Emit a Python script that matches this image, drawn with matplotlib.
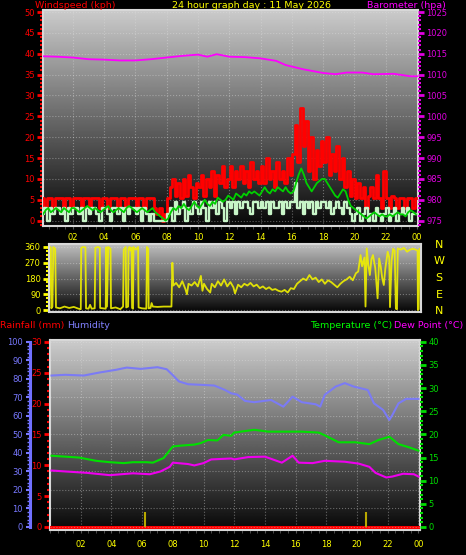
import numpy as np
import matplotlib
matplotlib.use('Agg')
import matplotlib.pyplot as plt
from matplotlib.ticker import MultipleLocator

# ---- data ----
# wind, 10 minute samples from 00:00
gust = [5.4, 3, 5.4, 5.4, 3, 5.4,   5.4, 5.4, 3, 5.4, 5.4, 3,
        5.4, 5.4, 5.4, 3, 5.4, 5.4,   3, 5.4, 5.4, 5.4, 3, 5.4,
        5.4, 3, 5.4, 5.4, 5.4, 3,   5.4, 5.4, 3, 5.4, 5.4, 5.4,
        3, 5.4, 5.4, 3, 5.4, 5.4,   5.4, 3, 1.5, 3, 0, 1.5,
        5.4, 8, 10, 6, 9, 5.4,   10, 6, 11, 8, 5.4, 9,
        8, 11, 6, 10, 8, 12,   6, 11, 9, 13, 8, 10,
        13, 8, 12, 10, 13, 9,   12, 8, 14, 10, 12, 9,
        13, 9, 15, 10, 12, 8,   14, 10, 12, 9, 15, 11,
        16, 23, 14, 27, 18, 24,   12, 20, 10, 17, 13, 19,
        14, 20, 11, 16, 12, 18,   10, 15, 8, 12, 6, 10,
        5.4, 9, 5.4, 8, 3, 6,   8, 5.4, 11, 5.4, 3, 12,
        5.4, 3, 6, 5.4, 3, 5.4,   5.4, 3, 5.4, 5.4, 3, 5.4]
speed = [1.5, 3, 0, 3, 1.5, 3,   3, 1.5, 3, 0, 3, 1.5,
         3, 3, 1.5, 3, 0, 3,   1.5, 3, 3, 1.5, 0, 3,
         3, 1.5, 0, 3, 3, 1.5,   3, 0, 3, 1.5, 3, 3,
         1.5, 3, 0, 3, 1.5, 0,   1.5, 0, 0, 0, 0, 0,
         1.5, 3, 0, 4.5, 1.5, 3,   4.5, 0, 3, 1.5, 4.5, 3,
         1.5, 4.5, 3, 0, 4.5, 3,   4.5, 1.5, 4.5, 3, 0, 4.5,
         3, 4.5, 1.5, 4.5, 3, 4.5,   4.5, 3, 1.5, 4.5, 4.5, 3,
         4.5, 3, 4.5, 1.5, 4.5, 3,   3, 4.5, 1.5, 4.5, 3, 4.5,
         4.5, 9, 3, 4.5, 1.5, 4.5,   3, 4.5, 1.5, 4.5, 3, 4.5,
         4.5, 3, 4.5, 1.5, 3, 4.5,   3, 1.5, 4.5, 3, 1.5, 0,
         1.5, 3, 0, 1.5, 3, 0,   1.5, 0, 3, 1.5, 0, 1.5,
         3, 0, 1.5, 3, 0, 1.5,   3, 1.5, 3, 0, 1.5, 1.5]
avg = [1.5, 2.5, 3, 2, 2.5, 3,   2.5, 2, 3, 2.5, 2, 3,
       3, 2.5, 2, 2.5, 3, 3.5,   3, 2.5, 3, 2.5, 2, 2.5,
       3, 3.5, 2.5, 2, 2.5, 3,   2.5, 2, 3, 3.5, 3, 2.5,
       2, 2.5, 3, 2.5, 2, 2.5,   3, 2, 1.5, 1, 0.5, 0,
       0.5, 2, 3, 2.5, 3.5, 3,   4, 3, 2.5, 3.5, 4.5, 3.5,
       3, 4, 5, 4, 3.5, 4.5,   4, 5.5, 5, 4.5, 5, 6,
       5.5, 5, 6.5, 6, 5.5, 6.5,   6, 7, 6.5, 7, 6.5, 6,
       7, 8, 7, 6.5, 7.5, 7,   8, 7.5, 7, 8, 7, 6.5,
       7, 9, 11, 12.5, 11, 9,   8, 7, 8, 9, 9.5, 10,
       10, 9, 8, 7, 6, 5.5,   6.5, 7.5, 7, 5, 3.5, 3,
       2.5, 2, 1.5, 1, 0.5, 1,   1.5, 2, 1.5, 1, 1.5, 1,
       1, 1.5, 1, 1.5, 2, 1.5,   1.5, 1, 2, 2.5, 2, 1.5]

baro_hours = [0.1, 1, 2, 3, 4, 5, 6, 7, 8, 9, 10, 10.6, 11.2, 12, 13, 14, 15, 15.6,
              16.7, 18, 18.8, 19.5, 20.5, 21.2, 22.5, 23.6, 24]
baro = [1014.4, 1014.3, 1014.1, 1013.7, 1013.6, 1013.4, 1013.4, 1013.7, 1014.1, 1014.5,
        1014.8, 1014.3, 1014.9, 1014.3, 1014.2, 1013.9, 1013.3, 1012.3, 1011.3, 1010.4,
        1010.1, 1010.5, 1010.5, 1010.1, 1010.2, 1009.6, 1009.6]

dir_hours = [0.0, 0.06, 0.12, 0.15, 0.22, 0.28, 0.4, 0.45, 0.7, 1.0, 1.3, 1.6, 1.9,
             2.05, 2.08, 2.2, 2.35, 2.39, 2.55, 2.65, 2.75, 2.95, 2.99, 3.15, 3.28, 3.3,
             3.5, 3.66, 3.7, 3.74, 3.82, 3.97, 4.0, 4.3, 4.6, 4.78, 4.82, 4.95, 4.98,
             5.1, 5.13, 5.2, 5.27, 5.33, 5.36, 5.42, 5.45, 5.6, 5.75, 5.78, 6.0, 6.28,
             6.32, 6.4, 6.43, 6.55, 6.62, 6.7, 7.0, 7.4, 7.9, 7.96, 8.02,
             8.2, 8.4, 8.6, 8.8, 8.9, 9.0, 9.2, 9.4, 9.6, 9.8, 9.9, 10.0, 10.2, 10.4,
             10.5, 10.7, 10.9, 11.1, 11.3, 11.5, 11.7, 11.9, 12.0, 12.2, 12.4, 12.6,
             12.8, 13.0, 13.2, 13.4, 13.6, 13.8, 14.0, 14.2, 14.4, 14.6, 14.8, 15.0,
             15.2, 15.4, 15.6, 15.8, 16.0, 16.2, 16.4, 16.6, 16.8, 17.0, 17.2, 17.4,
             17.6, 17.8, 18.0, 18.2, 18.4, 18.6, 18.8, 19.0, 19.2, 19.4, 19.6, 19.8,
             19.95, 20.1, 20.2, 20.35, 20.42, 20.5, 20.6, 20.7, 20.8, 20.9, 21.05, 21.2,
             21.3, 21.4, 21.5, 21.6, 21.7, 21.85, 21.95, 22.0, 22.1, 22.2, 22.3, 22.38,
             22.45, 22.5, 22.7, 22.9, 23.1, 23.3, 23.5, 23.7, 23.78, 23.8, 23.85, 23.9, 24.0]
dir_deg = [15, 360, 355, 10, 20, 360, 350, 15, 10, 20, 12, 18, 8,
           5, 355, 360, 358, 10, 8, 30, 8, 10, 355, 360, 355, 12,
           10, 8, 358, 20, 360, 350, 10, 15, 5, 20, 345, 360, 15,
           20, 350, 360, 340, 355, 12, 8, 360, 345, 360, 15, 10, 8,
           360, 350, 10, 12, 40, 20, 18, 20, 20, 270, 140,
           155, 130, 165, 120, 90, 150, 140, 160, 135, 195, 110, 150, 120, 100,
           150, 130, 165, 140, 175, 135, 160, 130, 95, 145, 130, 150,
           140, 155, 135, 145, 125, 135, 120, 130, 115, 120, 110, 105,
           115, 100, 125, 120, 150, 165, 180, 170, 200, 175, 185, 160,
           175, 150, 170, 160, 145, 130, 150, 165, 175, 190, 170, 210,
           220, 314, 250, 300, 20, 352, 260, 200, 290, 314, 240, 67,
           295, 250, 181, 143, 238, 333, 300, 17, 280, 350, 340, 8,
           5, 352, 345, 355, 333, 345, 350, 343, 340, 0, 5, 350, 345]

hum_hours = [0.1, 1, 2.2, 3.2, 4.3, 5, 5.9, 7, 7.6, 8, 8.4, 9, 9.8, 10.7, 11.4, 11.8,
             12.2, 12.7, 13.3, 14.4, 15.2, 15.8, 16.4, 17.3, 17.6, 17.9, 18.6, 19.2,
             19.8, 20.4, 20.7, 21.1, 21.7, 22.1, 22.3, 22.7, 23.2, 24]
humidity = [81.8, 82.2, 81.8, 83.4, 84.9, 86.1, 85.4, 86.3, 85.2, 82, 78.6, 77.1, 76.8,
            76.4, 74, 72.2, 71.5, 68.1, 67.4, 68.6, 65, 70.4, 67.4, 66.3, 65, 71.4, 75.8,
            77.7, 75.8, 74.6, 74, 66.8, 63.2, 57.8, 60.5, 66.8, 69.2, 69.2]

temp_hours = [0.1, 1.9, 3, 3.9, 4.8, 5.4, 6.3, 6.7, 7.4, 8, 8.6, 9.4, 9.8, 10.3, 10.9,
              11.3, 11.8, 12, 13.3, 14.2, 16.4, 17.5, 17.9, 18.8, 19.9, 20.8, 21.4, 22.1,
              22.7, 23.4, 24]
temp = [15.4, 15, 14.3, 14, 13.8, 14, 14, 13.9, 14.9, 17.4, 17.6, 17.8, 18.1, 18.8, 18.7,
        19.9, 19.7, 20.4, 21, 20.6, 20.6, 20.4, 19.8, 18.3, 18.3, 17.9, 18.8, 19.5, 17.9,
        17.2, 16.5]

dew_hours = [0.1, 1, 2.4, 3.9, 5.4, 6.5, 7.2, 7.8, 8, 9, 9.4, 10, 10.5, 11.8, 12, 12.9,
             14, 15.1, 15.8, 16.2, 17.1, 17.9, 19.2, 20.1, 20.8, 21.2, 21.9, 22.3, 23,
             23.7, 24]
dew = [12.2, 12, 11.7, 11.2, 11.6, 11.4, 12, 13, 13.9, 13.6, 13.3, 13.8, 14.6, 14.8, 14.6,
       15.1, 15.2, 13.9, 15.4, 13.9, 13.8, 14.3, 14.1, 13.7, 13, 11.7, 10.7, 10.9, 11.5,
       11.4, 10.9]

rain_hours = [0.0, 24.0]
rain = [0, 0]
rain_mark_hours = [6.2, 20.6]
rain_mark = [2.4, 2.4]

hour_ticks = np.arange(2, 25, 2)
hour_labels = ['%02d' % (h % 24) for h in hour_ticks]

wind_t = np.arange(len(gust)) / 6.0 + 0.1

W, H = 466, 555
fig = plt.figure(figsize=(W / 100, H / 100), dpi=100, facecolor='black')


def px_axes(l, t, r, b):
    return fig.add_axes([l / W, 1 - b / H, (r - l) / W, (b - t) / H])


def shade(ax, top, bottom):
    grad = np.linspace(top, bottom, 256)[:, None]
    ax.imshow(grad, cmap='gray', vmin=0, vmax=1, aspect='auto', extent=(0, 1, 0, 1),
              transform=ax.transAxes, zorder=0, interpolation='bilinear')


def style(ax):
    for s in ax.spines.values():
        s.set_color('#d8d8d8')
        s.set_linewidth(1.5)
    ax.set_xlim(0, 24.1)
    ax.xaxis.set_major_locator(plt.FixedLocator(hour_ticks))
    ax.xaxis.set_minor_locator(MultipleLocator(0.5))
    ax.tick_params(axis='x', which='both', colors='#555555', length=2, labelsize=6,
                   labelcolor='yellow', pad=3)
    ax.grid(True, which='major', color='#e0e0e0', linestyle=':', linewidth=0.8, alpha=0.4)


def yticks(ax, color, major, minor, side='left'):
    ax.yaxis.set_major_locator(MultipleLocator(major))
    ax.yaxis.set_minor_locator(MultipleLocator(minor))
    if side == 'left':
        ax.yaxis.tick_left()
    else:
        ax.yaxis.tick_right()
    ax.tick_params(axis='y', which='major', colors=color, length=4, width=2, labelsize=6, pad=2)
    ax.tick_params(axis='y', which='minor', colors=color, length=2, width=1.5)


# ---- top: wind + barometer ----
ax1 = px_axes(43, 10, 418, 226)
ax1.set_facecolor('black')
shade(ax1, 0.80, 0.03)
style(ax1)
ax1.set_xlim(0.1, 24.06)
ax1.set_ylim(-1.3, 50.5)
ax1.set_xticklabels(hour_labels)
ax1.step(wind_t, gust, where='mid', color='#ff0000', lw=2.0, zorder=3)
ax1.step(wind_t, speed, where='mid', color='#c8f5c8', lw=1.7, zorder=4)
ax1.plot(wind_t, avg, color='#00d000', lw=1.3, zorder=5)

ax1b = ax1.twinx()
ax1b.set_ylim(975 - 1.3, 1025.5)
for s in ax1b.spines.values():
    s.set_visible(False)
ax1b.plot(baro_hours, baro, color='#ff00ff', lw=1.3)
yticks(ax1, 'red', 5, 1, 'left')
yticks(ax1b, '#e000e0', 5, 1, 'right')

# ---- middle: wind direction ----
ax2 = px_axes(49, 244, 421, 312)
ax2.set_facecolor('black')
shade(ax2, 0.75, 0.02)
style(ax2)
ax2.set_xlim(0, 24)
ax2.set_ylim(-11, 377)
ax2.grid(False, axis='x')
ax2.tick_params(axis='x', which='both', labelbottom=False, length=0)
yticks(ax2, 'yellow', 90, 22.5, 'left')
ax2.plot(dir_hours, dir_deg, color='#f0f000', lw=1.3, alpha=0.9)
for lab, yy in zip(['N', 'W', 'S', 'E', 'N'], [245, 261, 278, 295, 311]):
    fig.text(439 / W, 1 - yy / H, lab, color='yellow', fontsize=8, ha='center', va='center')

# ---- bottom: rain (main, left) / humidity / temperature + dew point ----
ax3 = px_axes(50, 340, 420, 530)
ax3.set_facecolor('black')
shade(ax3, 0.80, 0.03)
style(ax3)
ax3.set_xticklabels(hour_labels)
ax3.tick_params(axis='x', pad=5)
ax3.grid(False, axis='y')
ax3.set_ylim(-0.49, 30.3)

axh = ax3.twinx()
axh.set_ylim(-1.63, 101)
for s in axh.spines.values():
    s.set_visible(False)
axh.grid(True, axis='y', color='#e0e0e0', linestyle=':', linewidth=0.8, alpha=0.4)
axh.plot(hum_hours, humidity, color='#7b7bf5', lw=1.5)

axt = ax3.twinx()
axt.set_ylim(-0.65, 40.4)
for s in axt.spines.values():
    s.set_visible(False)
axt.plot(temp_hours, temp, color='#00e000', lw=1.5)
axt.plot(dew_hours, dew, color='#ee00ee', lw=1.5)

ax3.plot(rain_hours, rain, color='#ff0000', lw=2.2, zorder=3)
ax3.vlines(rain_mark_hours, 0, rain_mark, color='#b8a800', lw=1.5, zorder=3)

# tick sides set after all twins exist
yticks(ax3, 'red', 5, 1, 'left')
yticks(axt, '#00dd00', 5, 1, 'right')
yticks(axh, '#7878ff', 10, 2, 'left')
axh.tick_params(axis='y', which='major', length=3, width=1.5)
axh.tick_params(axis='y', which='minor', length=2, width=1)
axh.spines['left'].set_visible(True)
axh.spines['left'].set_position(('outward', 14.4))
axh.spines['left'].set_color('#7070ff')
axh.spines['left'].set_linewidth(2.2)
axh.spines['left'].set_bounds(0, 100)

# ---- titles ----
fs = 6.8
ty = 1 - 1 / H
fig.text(35 / W, ty, 'Windspeed (kph)', color='red', fontsize=fs, va='top')
fig.text(251 / W, ty, '24 hour graph day : 11 May 2026', color='yellow', fontsize=fs,
         va='top', ha='center')
fig.text(446 / W, ty, 'Barometer (hpa)', color='#ff00ff', fontsize=fs, va='top', ha='right')
fig.text(0, 1 - 321 / H, 'Rainfall (mm)', color='red', fontsize=fs, va='top')
fig.text(67 / W, 1 - 321 / H, 'Humidity', color='#8080ff', fontsize=fs, va='top')
fig.text(392 / W, 1 - 321 / H, 'Temperature (\u00b0C)', color='#00ff00', fontsize=fs, va='top',
         ha='right')
fig.text(463 / W, 1 - 321 / H, 'Dew Point (\u00b0C)', color='#ff00ff', fontsize=fs, va='top',
         ha='right')

fig.savefig('out.png', dpi=100, facecolor='black')
